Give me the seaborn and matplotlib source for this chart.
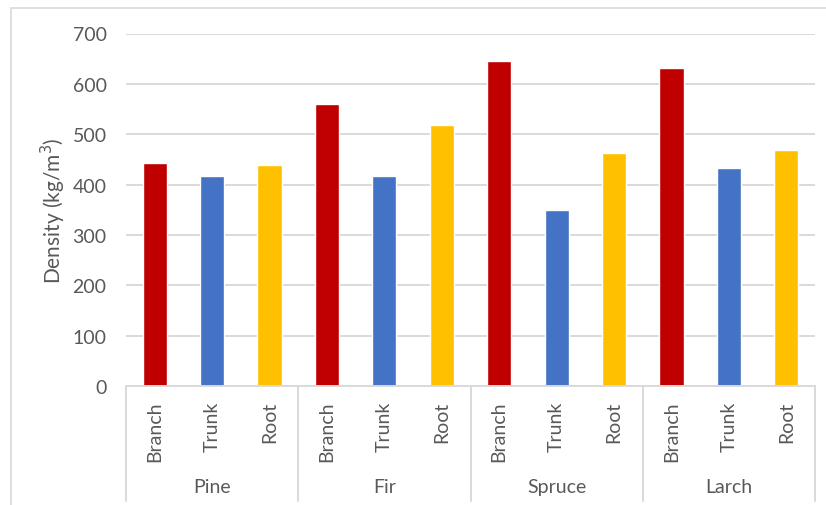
import pandas as pd
import seaborn as sns
import matplotlib.pyplot as plt
from matplotlib.patches import Rectangle

# data
species = ['Pine', 'Fir', 'Spruce', 'Larch']
parts = ['Branch', 'Trunk', 'Root']
branch = [443, 560, 645, 631]
trunk = [417, 417, 350, 433]
root = [439, 518, 463, 469]

colors = {'Branch': '#C00000', 'Trunk': '#4472C4', 'Root': '#FFC000'}
grey = '#595959'
line_grey = '#D9D9D9'

rows = []
for i, sp in enumerate(species):
    for part, vals in zip(parts, [branch, trunk, root]):
        rows.append({'key': sp + ' ' + part, 'species': sp, 'part': part, 'density': vals[i]})
df = pd.DataFrame(rows)

sns.set_style('white')
plt.rcParams['font.family'] = ['Lato', 'DejaVu Sans']

fig = plt.figure(figsize=(8.26, 5.06), dpi=100)
W, H = 826, 506
ax = fig.add_axes([126 / W, 1 - 387 / H, (815 - 126) / W, (387 - 34.5) / H])

# outer chart border
fig.patches.append(Rectangle((11 / W, -0.1), 1.2, 1 - 9 / H + 0.1, transform=fig.transFigure,
                             fill=False, edgecolor=line_grey, linewidth=1.2))

sns.barplot(data=df, x='key', y='density', hue='part', order=df['key'].tolist(),
            palette=colors, dodge=False, width=0.42, saturation=1, ax=ax, legend=False)

ax.set_ylim(0, 700)
ax.set_xlim(-0.5, len(df) - 0.5)
ax.set_yticks(range(0, 701, 100))
ax.yaxis.grid(True, color=line_grey, linewidth=1.4)
ax.set_axisbelow(True)
for s in ['top', 'right', 'left']:
    ax.spines[s].set_visible(False)
ax.spines['bottom'].set_color(line_grey)
ax.spines['bottom'].set_linewidth(1.4)

ax.set_xticks(range(len(df)))
ax.set_xticklabels(df['part'], rotation=90)
ax.tick_params(axis='x', length=0, pad=10.5, labelsize=14, labelcolor=grey)
ax.tick_params(axis='y', length=0, pad=14, labelsize=14, labelcolor=grey)
ax.set_xlabel('')
ax.set_ylabel('Density (kg/m$^3$)', fontsize=15, color=grey, labelpad=3)

# second level of the category axis
trans = ax.get_xaxis_transform()
n = len(parts)
for g in range(len(species) + 1):
    x = g * n - 0.5
    ax.plot([x, x], [0, -0.326], transform=trans, color=line_grey, linewidth=1.4, clip_on=False)
for g, sp in enumerate(species):
    ax.text(g * n + (n - 1) / 2, -0.2865, sp, transform=trans, ha='center', va='center',
            fontsize=14, color=grey)

fig.savefig('out.png', dpi=100)
